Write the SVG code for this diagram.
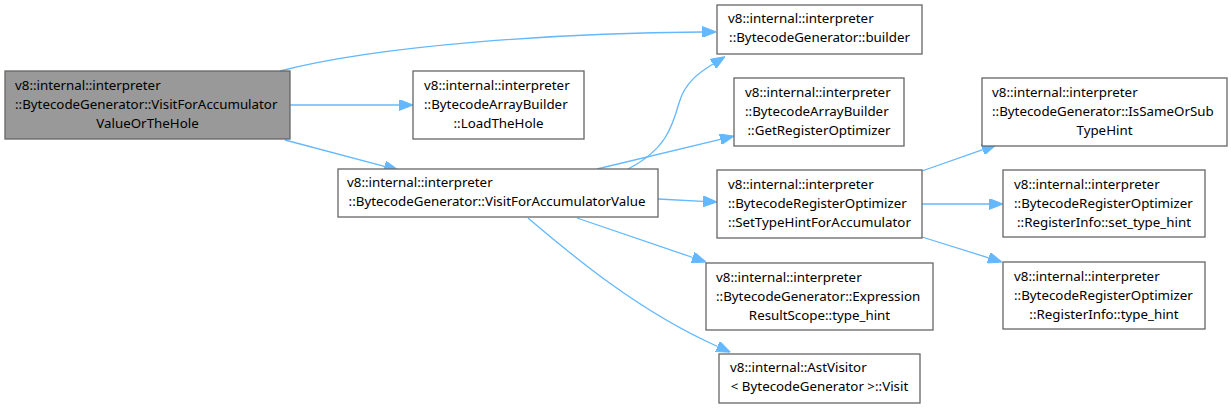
<svg xmlns="http://www.w3.org/2000/svg" width="1232" height="409" viewBox="0 0 1232 409">
<style>
.n rect{fill:#fff;stroke:#666;stroke-width:1.3}
.n.cur rect{fill:#999}
text{font-family:"Noto Sans","DejaVu Sans",sans-serif;font-size:13.33px;fill:#000}
.m{text-anchor:middle}
.e path{fill:none;stroke:#63b8ff;stroke-width:1.3;marker-end:url(#ah)}
</style>
<defs>
<marker id="ah" viewBox="0 0 14 11" refX="0" refY="5.5" markerWidth="14" markerHeight="11" markerUnits="userSpaceOnUse" orient="auto">
<path d="M0,0 L14,5.5 L0,11 z" fill="#63b8ff" stroke="#63b8ff" stroke-width="1"/>
</marker>
</defs>
<g id="connectors" class="e">
<path d="M280,71 C380,45 560,33 702,32"/>
<path d="M290,105 L399,105"/>
<path d="M285,140 L384.5,166.4"/>
<path d="M628,169 C665,150 672,128 679,103 C685,82 700,72 713,64"/>
<path d="M597,169 L720.4,139.3"/>
<path d="M658,199 L703,201.3"/>
<path d="M577,218 L692.8,257.5"/>
<path d="M528,218 C575,258 640,312 717.6,346.5"/>
<path d="M922,171 L982.8,149.6"/>
<path d="M922,204 L989,204"/>
<path d="M922,237 L988.6,257.8"/>
</g>
<g id="node_root" class="n cur">
<rect x="5" y="71" width="285" height="68"/>
<text x="15" y="89.5">v8::internal::interpreter</text>
<text x="15" y="108.5">::BytecodeGenerator::VisitForAccumulator</text>
<text x="147.5" y="127.5" class="m">ValueOrTheHole</text>
</g>
<g id="node_loadthehole" class="n">
<rect x="413" y="71" width="171" height="68"/>
<text x="424" y="89.5">v8::internal::interpreter</text>
<text x="424" y="108.5">::BytecodeArrayBuilder</text>
<text x="498.5" y="127.5" class="m">::LoadTheHole</text>
</g>
<g id="node_vfav" class="n">
<rect x="338" y="169" width="320" height="48"/>
<text x="347" y="187">v8::internal::interpreter</text>
<text x="497" y="206" class="m">::BytecodeGenerator::VisitForAccumulatorValue</text>
</g>
<g id="node_builder" class="n">
<rect x="717" y="5" width="205" height="49"/>
<text x="728" y="23">v8::internal::interpreter</text>
<text x="819.5" y="42" class="m">::BytecodeGenerator::builder</text>
</g>
<g id="node_getregopt" class="n">
<rect x="734" y="78" width="170" height="68"/>
<text x="745" y="96.5">v8::internal::interpreter</text>
<text x="745" y="115.5">::BytecodeArrayBuilder</text>
<text x="819" y="134.5" class="m">::GetRegisterOptimizer</text>
</g>
<g id="node_settypehint" class="n">
<rect x="717" y="170" width="205" height="68"/>
<text x="728" y="188.5">v8::internal::interpreter</text>
<text x="728" y="207.5">::BytecodeRegisterOptimizer</text>
<text x="819.5" y="226.5" class="m">::SetTypeHintForAccumulator</text>
</g>
<g id="node_exprscope" class="n">
<rect x="706" y="263" width="227" height="67"/>
<text x="716" y="281.5">v8::internal::interpreter</text>
<text x="716" y="300.5">::BytecodeGenerator::Expression</text>
<text x="819.5" y="319.5" class="m">ResultScope::type_hint</text>
</g>
<g id="node_astvisitor" class="n">
<rect x="719" y="354" width="201" height="49"/>
<text x="730" y="372">v8::internal::AstVisitor</text>
<text x="819.5" y="391" class="m">&lt; BytecodeGenerator &gt;::Visit</text>
</g>
<g id="node_issameorsub" class="n">
<rect x="982" y="78" width="245" height="68"/>
<text x="992" y="96.5">v8::internal::interpreter</text>
<text x="992" y="115.5">::BytecodeGenerator::IsSameOrSub</text>
<text x="1104.5" y="134.5" class="m">TypeHint</text>
</g>
<g id="node_settype" class="n">
<rect x="1003" y="170" width="202" height="67"/>
<text x="1014" y="188.5">v8::internal::interpreter</text>
<text x="1014" y="207.5">::BytecodeRegisterOptimizer</text>
<text x="1104" y="226.5" class="m">::RegisterInfo::set_type_hint</text>
</g>
<g id="node_typehint" class="n">
<rect x="1003" y="262" width="202" height="67"/>
<text x="1014" y="280.5">v8::internal::interpreter</text>
<text x="1014" y="299.5">::BytecodeRegisterOptimizer</text>
<text x="1104" y="318.5" class="m">::RegisterInfo::type_hint</text>
</g>
</svg>
